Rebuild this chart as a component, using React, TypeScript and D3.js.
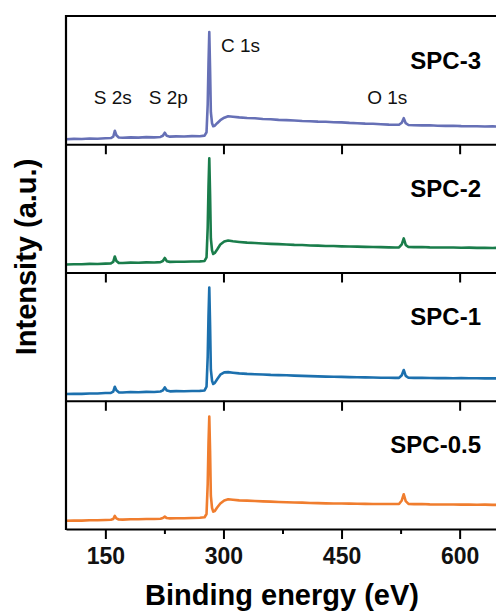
import React, { useEffect, useRef } from 'react'
import * as d3 from 'd3'

// binding energy grid (eV)
const energy = [
  100, 110, 120, 130, 140, 150, 157, 160, 162, 164,
  167, 172, 182, 192, 202, 212, 220, 223, 225.5, 228,
  232, 240, 250, 260, 270, 276, 278.5, 280, 281, 282,
  283, 284, 285.5, 287, 289, 292, 296, 301, 306, 312,
  320, 330, 340, 350, 360, 370, 380, 390, 400, 410,
  420, 430, 440, 450, 460, 470, 480, 490, 500, 510,
  518, 523, 526.5, 529, 531.5, 535, 542, 552, 562, 572,
  582, 592, 602, 612, 622, 632, 642, 650,
]

const spc3 = [
  5.0, 5.4, 5.2, 5.7, 5.5, 6.0, 6.2, 7.5, 13.5, 9.0,
  6.8, 6.5, 6.9, 6.6, 7.1, 6.9, 7.3, 8.5, 11.5, 8.4,
  7.6, 7.9, 7.7, 8.1, 8.0, 8.6, 12, 40, 80, 112,
  75, 32, 21, 18, 18.5, 21, 24, 26.5, 28, 27.5,
  26.8, 26.2, 25.9, 25.2, 25.0, 24.3, 24.1, 23.7, 23.2, 23.0,
  22.6, 22.4, 22.0, 21.8, 21.3, 21.0, 20.6, 20.4, 20.0, 19.6,
  19.5, 19.4, 21.5, 26, 21, 19.2, 19.0, 18.8, 18.9, 18.5,
  18.3, 18.4, 18.1, 18.0, 17.9, 17.7, 17.8, 17.6,
]

const spc2 = [
  8.0, 8.3, 8.2, 8.6, 8.5, 8.9, 9.1, 10.5, 16, 11.5,
  9.6, 9.5, 9.9, 9.7, 10.1, 10.0, 10.4, 11.5, 14.5, 11.3,
  10.6, 10.8, 10.7, 11.0, 11.1, 11.5, 15, 45, 85, 114,
  78, 34, 22, 18.5, 19.5, 23, 28, 31, 32, 31.2,
  30.5, 29.8, 29.4, 29.0, 28.6, 28.3, 28.0, 27.6, 27.4, 27.0,
  26.8, 26.5, 26.4, 26.1, 25.9, 25.8, 25.6, 25.4, 25.3, 25.1,
  25.0, 25.0, 28, 34, 27.5, 25.4, 25.3, 25.5, 25.1, 25.0,
  24.9, 25.0, 24.7, 24.8, 24.6, 24.7, 24.5, 24.6,
]

const spc1 = [
  6.7, 7.0, 6.9, 7.3, 7.2, 7.7, 7.9, 9.2, 14, 10.4,
  8.4, 8.3, 8.7, 8.5, 8.9, 8.8, 9.2, 10.3, 13.3, 10.2,
  9.4, 9.6, 9.5, 9.8, 9.9, 10.3, 14, 44, 84, 113,
  76, 31, 20, 16.7, 17.8, 21.5, 26, 28.3, 28.6, 28.0,
  27.3, 26.8, 26.5, 26.2, 25.8, 25.6, 25.4, 25.1, 24.8, 24.6,
  24.3, 24.1, 24.0, 23.8, 23.6, 23.5, 23.3, 23.2, 23.0, 22.9,
  22.8, 22.8, 25.5, 30.7, 24.8, 22.9, 22.8, 23.0, 22.7, 22.6,
  22.7, 22.5, 22.6, 22.4, 22.5, 22.3, 22.4, 22.2,
]

const spc05 = [
  8.3, 8.5, 8.4, 8.8, 8.7, 9.0, 9.2, 10.0, 13, 10.6,
  9.5, 9.4, 9.8, 9.7, 10.0, 10.0, 10.3, 11.0, 12.3, 10.9,
  10.6, 10.8, 10.7, 11.0, 11.2, 11.7, 15, 45, 85, 112.3,
  78, 33, 21, 17.3, 18, 21.5, 25.5, 28.5, 29.7, 29.2,
  28.6, 28.3, 28.0, 27.6, 27.3, 27.0, 26.7, 26.5, 26.3, 26.0,
  25.8, 25.6, 25.5, 25.4, 25.3, 25.2, 25.1, 25.0, 25.0, 24.9,
  24.9, 25.0, 28.5, 34.7, 27.8, 25.1, 24.8, 24.9, 24.6, 24.5,
  24.5, 24.4, 24.3, 24.4, 24.2, 24.3, 24.1, 24.0,
]

const samples = ['SPC-3', 'SPC-2', 'SPC-1', 'SPC-0.5']
const series = [spc3, spc2, spc1, spc05]
const colors = ['#6670b6', '#1a7d4b', '#1c70ae', '#f07d2e']

const xTicks = [150, 300, 450, 600]
const xMinor = [225, 375, 525]

// peak labels drawn in the top panel
const peakLabels = ['S 2s', 'S 2p', 'C 1s', 'O 1s']
const peakLabelEnergy = [159.5, 230, 310, 508]

function App() {
  const ref = useRef(null)

  const width = 496, height = 614
  const margin = { top: 16, right: -3, bottom: 85, left: 66 }
  const font = '"Liberation Sans", Arial, sans-serif'

  useEffect(() => {
    const svg = d3.select(ref.current)
    svg.selectAll('*').remove()

    const x = d3.scaleLinear().domain([100, 650]).range([margin.left, width - margin.right])
    const panels = d3.scaleBand().domain(samples).range([margin.top, height - margin.bottom]).padding(0)
    const ph = panels.bandwidth()

    // spectra
    samples.forEach((s, i) => {
      const top = panels(s)
      const y = d3.scaleLinear().domain([0, 128]).range([top + ph, top])
      const line = d3.line().x((d, j) => x(energy[j])).y(d => y(d))
      svg.append('path')
        .datum(series[i])
        .attr('d', line)
        .attr('fill', 'none')
        .attr('stroke', colors[i])
        .attr('stroke-width', 2.6)
        .attr('stroke-linejoin', 'round')

      svg.append('text')
        .attr('x', 481)
        .attr('y', top + 52.5)
        .attr('text-anchor', 'end')
        .attr('font-family', font)
        .attr('font-weight', 'bold')
        .attr('font-size', 24)
        .text(s)

      // ticks along the lower edge of each panel
      const isLast = i === samples.length - 1
      const axis = d3.axisBottom(x).tickValues(xTicks).tickSize(10).tickSizeOuter(0).tickPadding(9)
      if (!isLast) axis.tickFormat(() => '')
      const g = svg.append('g').attr('transform', `translate(0,${top + ph})`).call(axis)
      g.select('.domain').attr('stroke-width', 2.2)
      g.selectAll('.tick line').attr('stroke-width', 2)
      g.selectAll('.tick text')
        .attr('font-family', font)
        .attr('font-weight', 'bold')
        .attr('font-size', 23)
        .attr('fill', '#111')
      if (isLast) {
        svg.append('g')
          .attr('transform', `translate(0,${top + ph})`)
          .call(d3.axisBottom(x).tickValues(xMinor).tickSize(5).tickFormat(() => ''))
          .call(gg => gg.select('.domain').remove())
          .selectAll('.tick line').attr('stroke-width', 2)
      }
    })

    // frame: top and left
    svg.append('line')
      .attr('x1', margin.left).attr('x2', width)
      .attr('y1', margin.top).attr('y2', margin.top)
      .attr('stroke', '#000').attr('stroke-width', 2.2)
    svg.append('line')
      .attr('x1', margin.left).attr('x2', margin.left)
      .attr('y1', margin.top - 1).attr('y2', height - margin.bottom + 1)
      .attr('stroke', '#000').attr('stroke-width', 2.2)

    // peak annotations
    const top0 = panels(samples[0])
    peakLabels.forEach((t, i) => {
      const isC = t === 'C 1s'
      svg.append('text')
        .attr('x', isC ? 221 : x(peakLabelEnergy[i]))
        .attr('y', isC ? top0 + 36 : top0 + 87.5)
        .attr('text-anchor', isC ? 'start' : 'middle')
        .attr('font-family', font)
        .attr('font-size', 19)
        .attr('fill', '#111')
        .text(t)
    })

    // axis titles
    svg.append('text')
      .attr('x', 282).attr('y', 605)
      .attr('text-anchor', 'middle')
      .attr('font-family', font).attr('font-weight', 'bold').attr('font-size', 29)
      .text('Binding energy (eV)')

    svg.append('text')
      .attr('transform', 'translate(36,257) rotate(-90)')
      .attr('text-anchor', 'middle')
      .attr('font-family', font).attr('font-weight', 'bold').attr('font-size', 29)
      .text('Intensity (a.u.)')
  })

  return (
    <svg ref={ref} width={width} height={height}
      style={{ position: 'absolute', left: 0, top: 0, background: '#fff' }}></svg>
  )
}

export default App
